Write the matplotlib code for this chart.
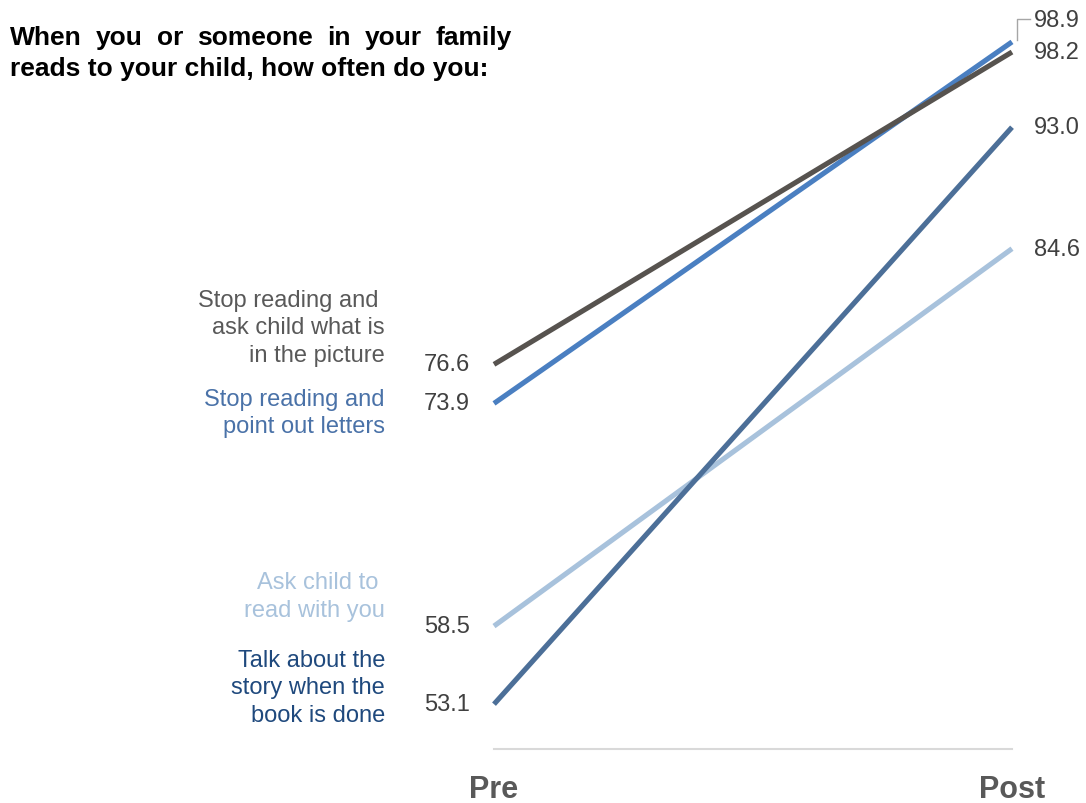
import matplotlib
matplotlib.use("Agg")
import matplotlib.pyplot as plt
from matplotlib.lines import Line2D

plt.rcParams['font.family'] = ['Liberation Sans', 'DejaVu Sans']

# ---- data -------------------------------------------------------------
periods = ["Pre", "Post"]
series_labels = [
    "Ask child to \nread with you",
    "Stop reading and\npoint out letters",
    "Stop reading and \nask child what is\nin the picture",
    "Talk about the\nstory when the\nbook is done",
]
pre_values = [58.5, 73.9, 76.6, 53.1]
post_values = [84.6, 98.9, 98.2, 93.0]

title_line1 = "When you or someone in your family"
title_line2 = "reads to your child, how often do you:"

# ---- styling ----------------------------------------------------------
line_colors = ["#a8c2dc", "#4a7fc1", "#57534f", "#4c6f98"]
text_colors = ["#a8c2dc", "#4a72a8", "#595959", "#1f497d"]
value_color = "#404040"
# label offsets (pixels) relative to each series' Pre point
label_dy = [30, -9, 37, 17]
pre_value_dy = [0, 0, 0, 0]
post_value_dy = [0, 22, 0, 0]

W, H, DPI = 1086, 804, 100
fig = plt.figure(figsize=(W / DPI, H / DPI), dpi=DPI)

# axes placed in pixel terms: x from Pre (494px) to Post (1012px)
x0_px, x1_px = 494, 1012
ymin, ymax = 50.0, 101.5
bottom_px = 750  # pixel row (from top) of ymin
px_per_unit = 14.46
top_px = bottom_px - (ymax - ymin) * px_per_unit
ax = fig.add_axes([x0_px / W, (H - bottom_px) / H,
                   (x1_px - x0_px) / W, (bottom_px - top_px) / H])
ax.set_xlim(0, 1)
ax.set_ylim(ymin, ymax)
ax.patch.set_visible(False)
for side in ["top", "right", "left"]:
    ax.spines[side].set_visible(False)
ax.spines["bottom"].set_color("#d9d9d9")
ax.spines["bottom"].set_linewidth(1.5)
ax.set_yticks([])
ax.set_xticks([0, 1])
ax.set_xticklabels(periods, fontsize=22, fontweight="bold", color="#595959")
ax.tick_params(axis="x", length=0, pad=18)

xs = [0, 1]
for i, (pre, post) in enumerate(zip(pre_values, post_values)):
    ax.plot(xs, [pre, post], color=line_colors[i], lw=3.7,
            solid_capstyle="butt", clip_on=False, zorder=3 + i)
    # Pre value
    ax.annotate(f"{pre:.1f}", xy=(0, pre), xytext=(-24, pre_value_dy[i]),
                textcoords="offset pixels", ha="right", va="center",
                fontsize=17, color=value_color)
    # Post value
    ax.annotate(f"{post:.1f}", xy=(1, post), xytext=(22, post_value_dy[i]),
                textcoords="offset pixels", ha="left", va="center",
                fontsize=17, color=value_color)
    # series label
    ax.annotate(series_labels[i], xy=(0, pre), xytext=(-109, label_dy[i]),
                textcoords="offset pixels", ha="right", va="center",
                fontsize=17, color=text_colors[i], linespacing=1.33,
                multialignment="right")

# elbow leader line for the raised Post label
i_top = post_value_dy.index(max(post_value_dy))
base = ax.transData.transform((1, post_values[i_top]))
pts_px = [(base[0] + 5, base[1] + 2), (base[0] + 5, base[1] + 23),
          (base[0] + 18, base[1] + 23)]
fig.add_artist(Line2D([p[0] / W for p in pts_px], [p[1] / H for p in pts_px],
                      transform=fig.transFigure, color="#a6a6a6", lw=1.0))

# ---- title (first line justified between left and right edges) -------
title_kw = dict(fontsize=19, fontweight="bold", color="black", va="baseline")
left_px, right_px = 10, 512
words = title_line1.split()
renderer = fig.canvas.get_renderer()
word_texts = [fig.text(0, 0, w, **title_kw) for w in words]
widths = [t.get_window_extent(renderer).width for t in word_texts]
gap = (right_px - left_px - sum(widths)) / (len(words) - 1)
x = left_px
for t, w in zip(word_texts, widths):
    t.set_position((x / W, (H - 45) / H))
    x += w + gap
fig.text(left_px / W, (H - 76) / H, title_line2, **title_kw)

fig.savefig("out.png", dpi=DPI)
